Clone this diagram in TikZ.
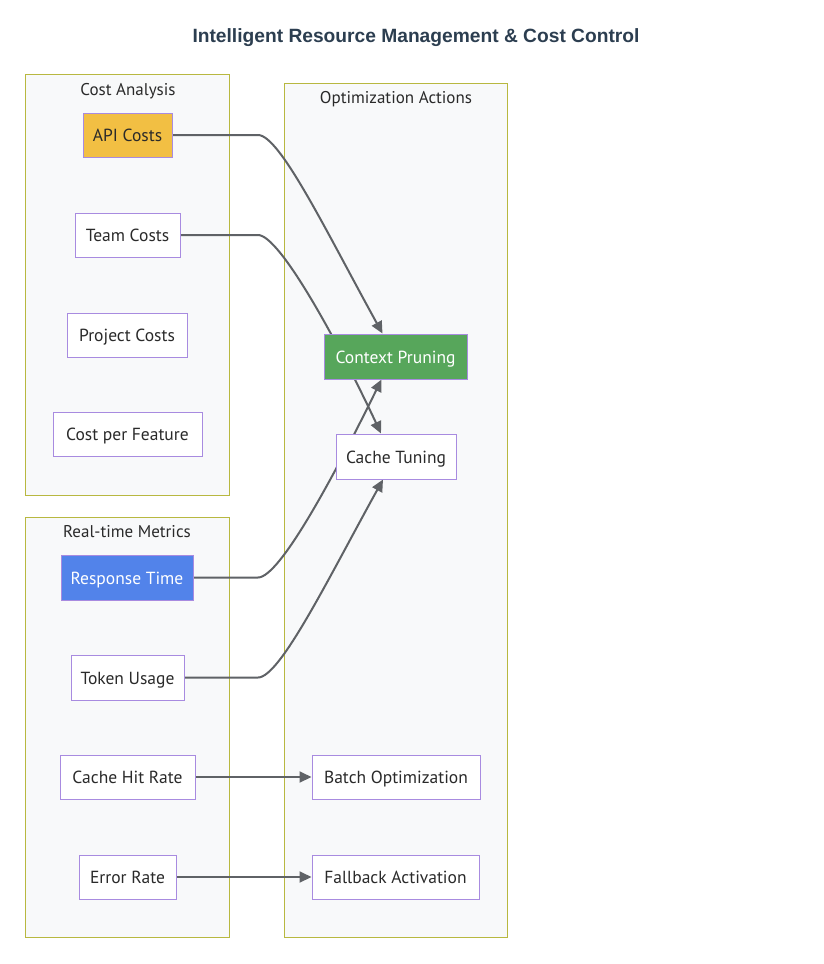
\documentclass[tikz,border=0pt]{standalone}
\usepackage{fontspec}
\setmainfont{PT Sans}
\newfontfamily\titlefont{Liberation Sans}
\usetikzlibrary{arrows.meta}
\definecolor{txt}{HTML}{2A2A2A}
\definecolor{titlec}{HTML}{2C3E50}
\definecolor{nodestroke}{HTML}{A88BE0}
\definecolor{clfill}{HTML}{F8F9FA}
\definecolor{clstroke}{HTML}{B8B840}
\definecolor{edgec}{HTML}{5F6266}
\definecolor{goldc}{HTML}{F2BF43}
\definecolor{greenc}{HTML}{57A65B}
\definecolor{bluec}{HTML}{5283EA}
\pgfdeclarelayer{bg}
\pgfdeclarelayer{edges}
\pgfsetlayers{bg,edges,main}
\begin{document}
\begin{tikzpicture}[x=1pt,y=-1pt,
  box/.style={draw=nodestroke,line width=1pt,fill=white,text=txt,font=\fontsize{17.5}{20}\selectfont,inner sep=0pt,minimum height=44pt,text height=15pt,text depth=2pt},
  cluster/.style={draw=clstroke,line width=0.9pt,fill=clfill},
  cltitle/.style={text=txt,font=\fontsize{17}{20}\selectfont,inner sep=0pt,text height=15pt,text depth=2pt},
  arr/.style={draw=edgec,line width=2pt,-{Triangle[length=12pt,width=11pt]}}]
\useasboundingbox (0,0) rectangle (824,964);
\node[text=titlec,font=\titlefont\bfseries\fontsize{19.2}{22}\selectfont,inner sep=0pt,text height=16pt,text depth=0pt] (title) at (416,34) {Intelligent Resource Management \& Cost Control};
% clusters
\begin{pgfonlayer}{bg}
\fill[white] (0,0) rectangle (824,964);
\path[cluster] (25,74) rectangle (229,495);
\path[cluster] (25,517) rectangle (229,937);
\path[cluster] (284,83) rectangle (507,937);
\end{pgfonlayer}
\node[cltitle] (cca) at (128,89) {Cost Analysis};
\node[cltitle] (crm) at (127,531) {Real-time Metrics};
\node[cltitle] (coa) at (396,97) {Optimization Actions};
% nodes
\node[box,fill=goldc,minimum width=89pt] (api) at (127.5,135) {API Costs};
\node[box,minimum width=105pt] (team) at (127.5,235) {Team Costs};
\node[box,minimum width=120pt] (proj) at (127,335) {Project Costs};
\node[box,minimum width=149pt] (feat) at (127.5,434) {Cost per Feature};
\node[box,fill=bluec,text=white,minimum width=132pt,minimum height=45pt] (resp) at (127,577.5) {Response Time};
\node[box,minimum width=113pt,minimum height=45pt] (tok) at (127.5,677.5) {Token Usage};
\node[box,minimum width=135pt] (hit) at (127.5,777) {Cache Hit Rate};
\node[box,minimum width=97pt] (err) at (127.5,877) {Error Rate};
\node[box,fill=greenc,text=white,minimum width=143pt,minimum height=45pt] (cp) at (395.5,356.5) {Context Pruning};
\node[box,minimum width=120pt,minimum height=45pt] (ct) at (396,456.5) {Cache Tuning};
\node[box,minimum width=168pt] (batch) at (396,777) {Batch Optimization};
\node[box,minimum width=167pt] (fall) at (395.5,877) {Fallback Activation};
% edges
\begin{pgfonlayer}{edges}
\draw[arr] (api.east) -- (258,135) .. controls (280,135) and (327,233) .. ([xshift=-13pt]cp.north);
\draw[arr] (team.east) -- (258,235) .. controls (280,235) and (339,344) .. ([xshift=-15pt]ct.north);
\draw[arr] (resp.east) -- (258,577.5) .. controls (280,577.5) and (335,474) .. ([xshift=-14pt]cp.south);
\draw[arr] (tok.east) -- (258,677.5) .. controls (280,677.5) and (328,579) .. ([xshift=-13pt]ct.south);
\draw[arr] (hit.east) -- (batch.west);
\draw[arr] (err.east) -- (fall.west);
\end{pgfonlayer}
\end{tikzpicture}
\end{document}
